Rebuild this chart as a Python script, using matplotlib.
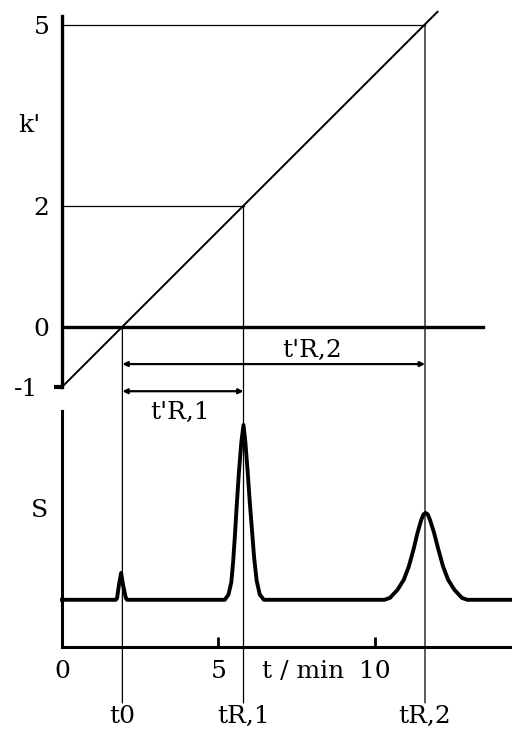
import numpy as np
import matplotlib.pyplot as plt
from matplotlib.patches import ConnectionPatch

# retention times (min) and capacity factors
t0 = 1.93
t_R = [5.8, 11.6]
k_R = [2, 5]
peak_names = ["t0", "tR,1", "tR,2"]

# capacity factor line k' = (t - t0) / t0, read at its end points
k_line_t = [0.0, 12.0]
k_line_k = [-1.0, 5.22]

# chromatogram (signal in arbitrary units, baseline = 0)
sig_t = [0.0, 1.72, 1.76, 1.82, 1.89, 1.95, 2.04, 2.08,
         5.20, 5.32, 5.41, 5.47, 5.53, 5.58, 5.65, 5.73, 5.8,
         5.86, 5.93, 6.00, 6.07, 6.14, 6.22, 6.32, 6.45,
         10.30, 10.48, 10.72, 10.92, 11.08, 11.23, 11.36, 11.48, 11.55, 11.62,
         11.69, 11.76, 11.89, 12.03, 12.18, 12.34, 12.54, 12.78, 12.95, 14.4]
sig_s = [0.0, 0.0, 0.01, 0.086, 0.154, 0.086, 0.01, 0.0,
         0.0, 0.03, 0.10, 0.22, 0.38, 0.53, 0.72, 0.90, 1.0,
         0.90, 0.74, 0.56, 0.40, 0.24, 0.11, 0.03, 0.0,
         0.0, 0.011, 0.057, 0.114, 0.189, 0.286, 0.383, 0.457, 0.488, 0.497,
         0.488, 0.457, 0.383, 0.286, 0.189, 0.114, 0.057, 0.011, 0.0, 0.0]

xticks = [0, 5, 10]
kticks = [0, 2, 5]

plt.rcParams['font.family'] = ['DejaVu Serif']
plt.rcParams['font.size'] = 18

fig = plt.figure(figsize=(5.12, 7.33), dpi=100)
W, H = 512, 733
ax1 = fig.add_axes([62 / W, 1 - 387 / H, 450 / W, (387 - 16) / H])
ax2 = fig.add_axes([62 / W, 1 - 647 / H, 450 / W, (647 - 411) / H], sharex=ax1)
ax2.patch.set_visible(False)

xmax = 14.38
ax1.set_xlim(0, xmax)
ax1.set_ylim(-1, 5.15)
ax2.set_ylim(-0.27, 1.08)

# upper panel: k' vs t
for s in ['top', 'right', 'bottom']:
    ax1.spines[s].set_visible(False)
ax1.spines['left'].set_linewidth(2.4)
ax1.tick_params(axis='x', bottom=False, labelbottom=False)
ax1.set_yticks(kticks)
ax1.set_yticklabels([str(k) for k in kticks])
ax1.set_yticks([-1], minor=True)
ax1.set_yticklabels(['-1'], minor=True)
ax1.tick_params(axis='y', which='major', length=0, pad=9)
ax1.tick_params(axis='y', which='minor', length=6, width=3, pad=11)
ax1.set_ylabel("k'", rotation=0, va='center', ha='center')
ax1.yaxis.set_label_coords(-0.072, 0.706)

ax1.plot(k_line_t, k_line_k, color='black', lw=1.4, clip_on=False)
ax1.plot([0, 13.45], [0, 0], color='black', lw=2.4)
ax1.plot([0, t_R[0]], [k_R[0], k_R[0]], color='black', lw=0.9)
ax1.plot([0, t_R[1]], [k_R[1], k_R[1]], color='black', lw=0.9)

# adjusted retention time arrows
arrow = dict(arrowstyle='<|-|>', lw=1.6, color='black', mutation_scale=7,
             shrinkA=0, shrinkB=0)
ax1.annotate('', xy=(t_R[1], -0.62), xytext=(t0, -0.62), arrowprops=arrow,
             annotation_clip=False)
ax1.annotate('', xy=(t_R[0], -1.07), xytext=(t0, -1.07), arrowprops=arrow,
             annotation_clip=False)
ax1.text(8.0, -0.39, "t'R,2", ha='center', va='center')
ax1.text(3.77, -1.43, "t'R,1", ha='center', va='center', clip_on=False)

# lower panel: chromatogram
for s in ['top', 'right']:
    ax2.spines[s].set_visible(False)
ax2.spines['left'].set_linewidth(2.2)
ax2.spines['bottom'].set_linewidth(2.2)
ax2.set_yticks([])
ax2.set_xticks(xticks)
ax2.set_xticklabels([str(x) for x in xticks])
ax2.tick_params(axis='x', direction='in', length=7, width=2, pad=9)
ax2.set_xlabel('t / min', va='center')
ax2.xaxis.set_label_coords(0.536, -0.104)
ax2.set_ylabel('S', rotation=0, va='center', ha='center')
ax2.yaxis.set_label_coords(-0.049, 0.58)

ax2.plot(sig_t, sig_s, color='black', lw=2.8, solid_joinstyle='round',
         clip_on=False)

# vertical guide lines from the k' panel down to the labels
y_bottom = -0.59
for t, k in zip([t0] + t_R, [0] + k_R):
    con = ConnectionPatch(xyA=(t, k), coordsA=ax1.transData,
                          xyB=(t, y_bottom), coordsB=ax2.transData,
                          color='black', lw=0.9)
    fig.add_artist(con)

for t, name in zip([t0] + t_R, peak_names):
    ax2.text(t, -0.67, name, ha='center', va='center', clip_on=False)

fig.savefig('out.png', dpi=100)
